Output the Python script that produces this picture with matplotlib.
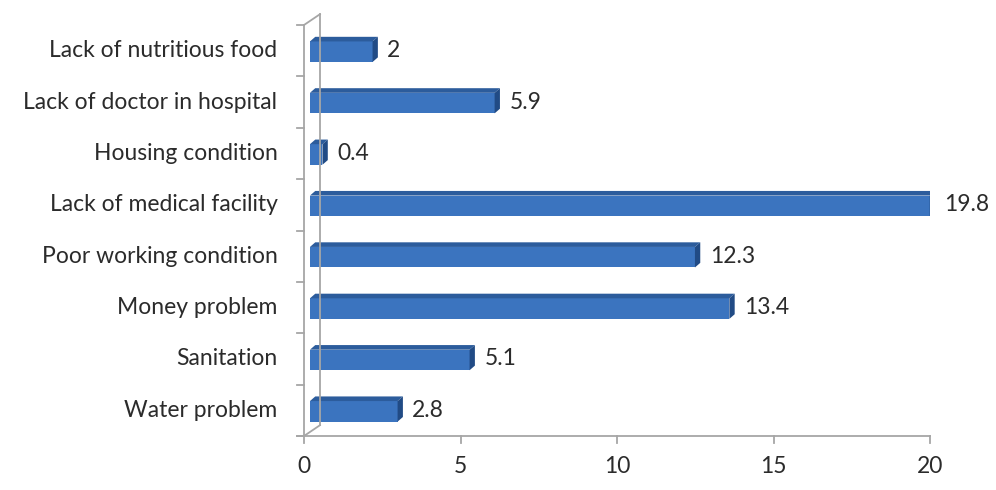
import matplotlib.pyplot as plt
from matplotlib.patches import Polygon
from matplotlib.lines import Line2D

categories = ["Water problem", "Sanitation", "Money problem", "Poor working condition",
              "Lack of medical facility", "Housing condition", "Lack of doctor in hospital",
              "Lack of nutritious food"]
values = [2.8, 5.1, 13.4, 12.3, 19.8, 0.4, 5.9, 2.0]
xticks = [0, 5, 10, 15, 20]

plt.rcParams['font.family'] = ['Lato', 'DejaVu Sans']

W, H = 996, 490
fig = plt.figure(figsize=(W / 100, H / 100), dpi=100)
# data 0 -> px 304, 20 -> px 930 ; bottom px 436, top px 25
ax = fig.add_axes([304 / W, (H - 436) / H, 626 / W, 411 / H])
ax.set_xlim(0, 20)
ax.set_ylim(-0.5, 7.5)
ax.axis('off')

grey = "#a6a6a6"
front = "#3b74bf"
top = "#2c5c9c"
side = "#214b85"
txt = "#2b2b2b"
fs = 16.5

x0 = 0.19    # front face start
dx = 0.17    # depth in x units
dy = 0.09    # depth in y units
h = 0.40

for i, v in enumerate(values):
    yb, yt = i - h / 2 - 0.02, i + h / 2 - 0.02
    ax.add_patch(Polygon([(x0, yb), (x0 + v, yb), (x0 + v, yt), (x0, yt)],
                         closed=True, fc=front, ec="none"))
    ax.add_patch(Polygon([(x0, yt), (x0 + v, yt), (x0 + v + dx, yt + dy), (x0 + dx, yt + dy)],
                         closed=True, fc=top, ec="none"))
    ax.add_patch(Polygon([(x0 + v, yb), (x0 + v + dx, yb + dy), (x0 + v + dx, yt + dy), (x0 + v, yt)],
                         closed=True, fc=side, ec="none"))
    ax.text(x0 + v + dx + 0.3, i, f"{v:g}", va="center", ha="left", fontsize=fs, color=txt)

# axis frame with 3D wall
bx, by = 0.51, 0.21
kw = dict(color=grey, lw=1.3, clip_on=False)
ax.add_line(Line2D([0, 0], [-0.5, 7.5], **kw))
ax.add_line(Line2D([bx, bx], [-0.5 + by, 7.5 + by], **kw))
ax.add_line(Line2D([0, bx], [7.5, 7.5 + by], **kw))
ax.add_line(Line2D([0, bx], [-0.5, -0.5 + by], **kw))
ax.add_line(Line2D([-0.22, 20], [-0.5, -0.5], **kw))
for k in range(9):
    ax.add_line(Line2D([-0.22, 0], [k - 0.5, k - 0.5], **kw))
for t in xticks:
    ax.add_line(Line2D([t, t], [-0.5, -0.64], **kw))
    ax.text(t, -1.1, str(t), ha="center", va="center", fontsize=fs, color=txt)

for i, c in enumerate(categories):
    ax.text(-0.85, i, c, ha="right", va="center", fontsize=fs, color=txt)

fig.savefig("out.png", dpi=100)
